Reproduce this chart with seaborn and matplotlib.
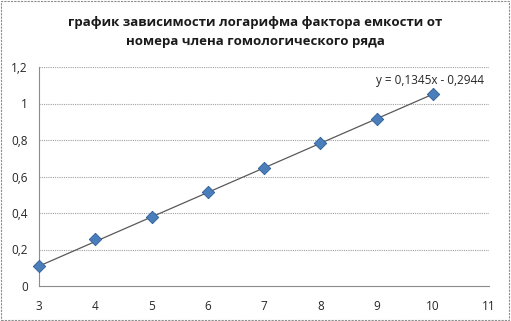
import matplotlib
matplotlib.use("Agg")
import matplotlib.pyplot as plt
import seaborn as sns
import numpy as np
import pandas as pd

x_vals = [3, 4, 5, 6, 7, 8, 9, 10]
y_vals = [0.11, 0.255, 0.378, 0.515, 0.647, 0.782, 0.917, 1.053]
slope = 0.1345
intercept = -0.2944
title = "график зависимости логарифма фактора емкости от\nномера члена гомологического ряда"
eq_label = "y = 0,1345x - 0,2944"
x_ticks = [3, 4, 5, 6, 7, 8, 9, 10, 11]
y_ticks = [0, 0.2, 0.4, 0.6, 0.8, 1.0, 1.2]
y_tick_labels = ["0", "0,2", "0,4", "0,6", "0,8", "1", "1,2"]

sns.set_theme(style="white")
plt.rcParams['font.family'] = ['Open Sans', 'DejaVu Sans']

df = pd.DataFrame({"x": x_vals, "y": y_vals})

fig = plt.figure(figsize=(5.11, 3.21), dpi=100)
ax = fig.add_axes([39/511, 1-286/321, 450/511, 219/321])

# trendline
xl = np.array([min(x_vals), max(x_vals)])
ax.plot(xl, slope*xl + intercept, color="#595959", lw=0.9, zorder=2)

sns.scatterplot(data=df, x="x", y="y", ax=ax, marker="D", s=40,
                color="#4a7ebb", edgecolor="#2c5d98", linewidth=0.6, zorder=3,
                clip_on=False)

ax.set_xlim(3, 11)
ax.set_ylim(0, 1.2)
ax.set_xticks(x_ticks)
ax.set_xticklabels([str(t) for t in x_ticks], fontsize=8.5)
ax.set_yticks(y_ticks)
ax.set_yticklabels(y_tick_labels, fontsize=8.5)
ax.set_xlabel("")
ax.set_ylabel("")
for yt in y_ticks[1:]:
    ax.axhline(yt, color="#a0a0a0", lw=0.8, ls=(0, (1, 1)), zorder=1)

for s in ["top", "right"]:
    ax.spines[s].set_visible(False)
for s in ["left", "bottom"]:
    ax.spines[s].set_color("#8c8c8c")
    ax.spines[s].set_linewidth(0.8)
ax.tick_params(axis="both", length=3, width=0.8, color="#8c8c8c", labelcolor="#262626", direction="out")
ax.tick_params(axis="x", pad=7)
ax.tick_params(axis="y", pad=5)

ax.text(9.0, 1.125, eq_label, fontsize=8.5, color="#262626", ha="left", va="center")

fig.text(0.5, 1-32/321, title, ha="center", va="center", fontsize=9.5, fontweight="bold",
         color="#1a1a1a", linespacing=1.6)

# outer border
rect = plt.Rectangle((0.002, 0.003), 0.995, 0.993, transform=fig.transFigure, fill=False,
                     edgecolor="#8c8c8c", lw=0.8, ls=(0, (2, 1)))
fig.patches.append(rect)

fig.savefig("out.png", dpi=100)
